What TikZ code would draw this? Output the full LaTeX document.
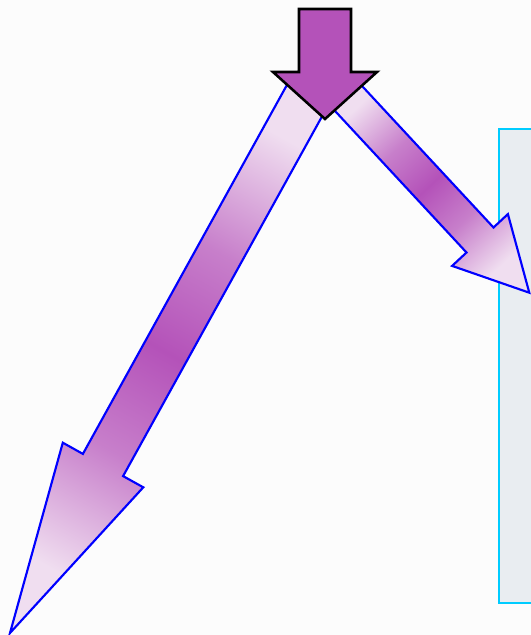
\documentclass[tikz,border=0pt]{standalone}
\definecolor{arrowPurple}{RGB}{180,82,185}
\definecolor{arrowLight}{RGB}{240,222,240}
\definecolor{panelFill}{RGB}{233,237,241}
\definecolor{panelLine}{RGB}{0,204,255}
\pgfdeclarehorizontalshading{arrowFade}{100bp}{color(0bp)=(arrowLight); color(24bp)=(arrowLight); color(38bp)=(arrowPurple!68!arrowLight); color(50bp)=(arrowPurple); color(62bp)=(arrowPurple!68!arrowLight); color(76bp)=(arrowLight); color(100bp)=(arrowLight)}

\begin{document}
\begin{tikzpicture}[
    x=0.75pt, y=-0.75pt,
    panel/.style={draw=panelLine, fill=panelFill, line width=1.5pt},
    fadearrow/.style={draw=blue, line width=1.6pt, line join=miter, shading=arrowFade},
    droparrow/.style={draw=black, fill=arrowPurple, line width=1.9pt, line join=miter}
]
    \clip (0,0) rectangle (531,635);
    \fill[white!99!black] (0,0) rectangle (531,635);

    % panel on the right, cut by the edge
    \draw[panel] (499,129) rectangle (570,603);

    % right branch
    \draw[fadearrow, shading angle=-47]
        (329,104.5) -- (466.5,252.5) -- (452.1,265.9) -- (529.3,292.7)
        -- (507.9,214.1) -- (493.5,227.5) -- (356,79.5) -- cycle;

    % left branch
    \draw[fadearrow, shading angle=61]
        (291.4,76.9) -- (82.9,453.9) -- (62.8,442.7) -- (10,633)
        -- (143.3,487.3) -- (123.1,476.1) -- (331.6,99.1) -- cycle;

    % incoming arrow
    \draw[droparrow]
        (299,9) -- (351,9) -- (351,72) -- (377,72) -- (325,119)
        -- (273,72) -- (299,72) -- cycle;
\end{tikzpicture}
\end{document}
